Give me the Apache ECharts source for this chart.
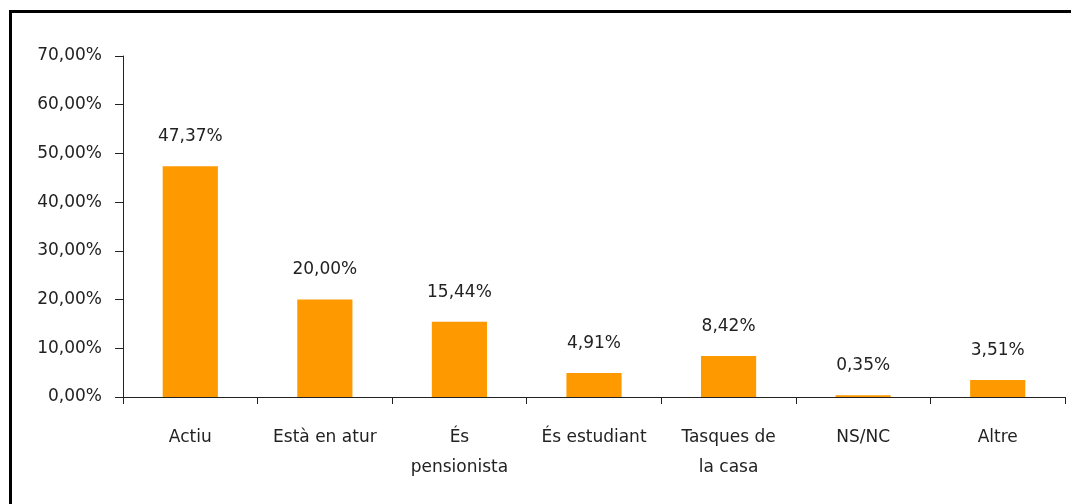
<!DOCTYPE html>
<html>
<head>
<meta charset="utf-8">
<script src="https://cdn.jsdelivr.net/npm/echarts@6/dist/echarts.min.js"></script>
<style>
  html, body { margin: 0; padding: 0; background: #fff; }
  #chart { width: 1071px; height: 504px; }
</style>
</head>
<body>
<div id="chart"></div>
<script>
  // categories and values
  var categories = ['Actiu', 'Està en atur', 'És\npensionista', 'És estudiant', 'Tasques de\nla casa', 'NS/NC', 'Altre'];
  var values = [47.37, 20.00, 15.44, 4.91, 8.42, 0.35, 3.51];
  var yTicks = [0, 10, 20, 30, 40, 50, 60, 70];

  function pct(v) {
    return Number(v).toFixed(2).replace('.', ',') + '%';
  }

  var chart = echarts.init(document.getElementById('chart'));
  var font = 'DejaVu Sans';

  var option = {
    animation: false,
    graphic: [{
      type: 'rect',
      shape: { x: 10.5, y: 11.5, width: 1200, height: 700 },
      style: { fill: 'none', stroke: '#000', lineWidth: 3 },
      z: 100
    }],
    grid: { left: 123, right: 6, top: 56, bottom: 107 },
    xAxis: {
      type: 'category',
      data: categories,
      axisLine: { lineStyle: { color: '#222', width: 1 } },
      axisTick: { show: true, length: 7, inside: false, lineStyle: { color: '#222' } },
      axisLabel: {
        color: '#222', fontFamily: font, fontSize: 17,
        margin: 26, lineHeight: 30, interval: 0
      }
    },
    yAxis: {
      type: 'value',
      min: yTicks[0],
      max: yTicks[yTicks.length - 1],
      interval: 10,
      splitLine: { show: false },
      axisLine: { show: true, lineStyle: { color: '#222', width: 1 } },
      axisTick: { show: true, length: 8, lineStyle: { color: '#222' } },
      axisLabel: {
        color: '#222', fontFamily: font, fontSize: 17, margin: 21,
        formatter: function (v) { return pct(v); }
      }
    },
    series: [{
      type: 'bar',
      data: values,
      barCategoryGap: '59%',
      itemStyle: { color: '#FF9900' },
      label: {
        show: true, position: 'top', distance: 21,
        color: '#222', fontFamily: font, fontSize: 17,
        formatter: function (p) { return pct(p.value); }
      }
    }]
  };

  chart.setOption(option);
</script>
</body>
</html>
